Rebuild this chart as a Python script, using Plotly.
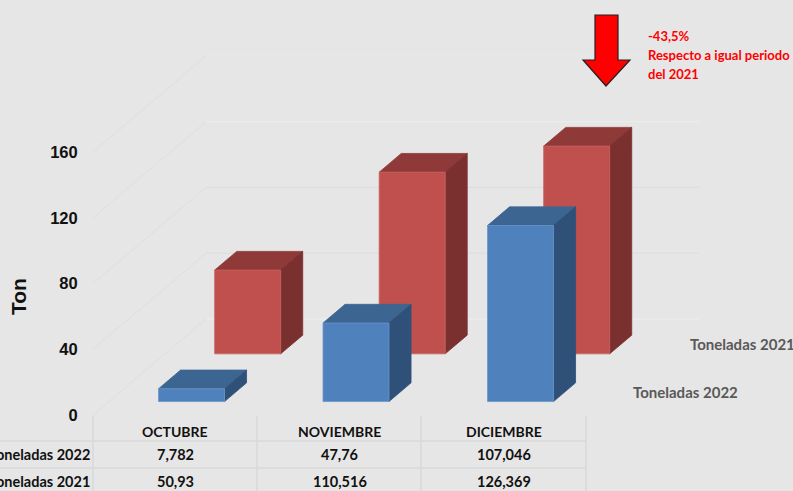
import plotly.graph_objects as go

months = ["OCTUBRE", "NOVIEMBRE", "DICIEMBRE"]
t2022 = [7.782, 47.76, 107.046]
t2021 = [50.93, 110.516, 126.369]
label_2022 = ["7,782", "47,76", "107,046"]
label_2021 = ["50,93", "110,516", "126,369"]
y_ticks = [0, 40, 80, 120, 160]

W, H = 793, 491
LEFT = 93
X0_PX, CAT_PX = 175.7, 164.5      # centre of first category, px per category
Y0_PX, TON_PX = 415.0, 1.644      # y=0 pixel, px per ton
DEPTH_X, DEPTH_Y = 113 / CAT_PX, 96 / TON_PX   # oblique projection of the full depth
BAR_W = 66 / CAT_PX
BAR_DEPTH = 0.195


def fx(px):
    return (px - X0_PX) / CAT_PX


def fy(py):
    return (Y0_PX - py) / TON_PX


def to_paper(px):
    return (px - LEFT) / (W - LEFT)


def to_paper_y(py):
    return 1 - py / H


BG = "#e6e6e6"
fig = go.Figure()


def line(xs, ys, color, width=1):
    fig.add_trace(go.Scatter(x=xs, y=ys, mode="lines", line=dict(color=color, width=width),
                             hoverinfo="skip", showlegend=False))


def poly(xs, ys, color, edge=None):
    fig.add_trace(go.Scatter(x=xs + xs[:1], y=ys + ys[:1], mode="lines", fill="toself",
                             fillcolor=color,
                             line=dict(color=edge or color, width=0.8),
                             hoverinfo="skip", showlegend=False))


# back wall and side wall gridlines
left_x = fx(LEFT)
right_x = fx(586)
wall_colors = {0: "#eeeeee", 40: "#dddddd", 80: "#dddddd", 120: "#eeeeee", 160: "#e9e9e9"}
for t in y_ticks:
    line([left_x, left_x + DEPTH_X], [t, t + DEPTH_Y], "#dcdcdc", 0.8)
    line([left_x + DEPTH_X, right_x + DEPTH_X], [t + DEPTH_Y] * 2, wall_colors[t], 1)


def bar(i, value, depth, front, side, top, edge):
    xl = i - BAR_W / 2
    xr = i + BAR_W / 2
    dx0, dy0 = depth * DEPTH_X, depth * DEPTH_Y
    dx1, dy1 = (depth + BAR_DEPTH) * DEPTH_X, (depth + BAR_DEPTH) * DEPTH_Y
    poly([xl + dx0, xr + dx0, xr + dx1, xl + dx1],
         [value + dy0, value + dy0, value + dy1, value + dy1], top)
    poly([xr + dx0, xr + dx1, xr + dx1, xr + dx0],
         [dy0, dy1, value + dy1, value + dy0], side)
    poly([xl + dx0, xr + dx0, xr + dx0, xl + dx0],
         [dy0, dy0, value + dy0, value + dy0], front, edge)


for i, v in enumerate(t2021):
    bar(i, v, 0.637, "#c0504d", "#7a302e", "#8f3a38", "#c9615e")
for i, v in enumerate(t2022):
    bar(i, v, 0.14, "#4f81bd", "#2f5078", "#3d6592", "#6a95c9")

annotations = []


def text(px, py, s, size, color="#111111", anchor="center", family="Lato", angle=0):
    annotations.append(dict(
        x=to_paper(px), y=to_paper_y(py), xref="paper", yref="paper", text=f"<b>{s}</b>",
        showarrow=False, xanchor=anchor, yanchor="middle", textangle=angle,
        font=dict(family=family, size=size, color=color)))


# data table
for i, m in enumerate(months):
    cx = 175 + 164.5 * i
    text(cx, 431, m, 14)
    text(cx, 454, label_2022[i], 14.5)
    text(cx, 481, label_2021[i], 14.5)
text(92, 454, "Toneladas 2022", 14.5, anchor="right")
text(92, 481, "Toneladas 2021", 14.5, anchor="right")

# series names
text(688, 344, "Toneladas 2021", 15, "#595959", anchor="left")
text(631, 392, "Toneladas 2022", 15, "#595959", anchor="left")

# callout
red = "#ff0000"
text(646, 36, "-43,5%", 13, red, anchor="left")
text(646, 55, "Respecto a igual periodo", 13, red, anchor="left")
text(646, 74, "del 2021", 13, red, anchor="left")

# axis title
text(18, 297, "Ton", 21, "#111111", family="Liberation Sans", angle=-90)

shapes = []
for py in (441, 468):
    shapes.append(dict(type="line", xref="paper", yref="paper", x0=to_paper(0), x1=to_paper(586),
                       y0=to_paper_y(py), y1=to_paper_y(py), line=dict(color="#d9d9d9", width=1.5)))
for px in (93, 257, 421, 586):
    shapes.append(dict(type="line", xref="paper", yref="paper", x0=to_paper(px), x1=to_paper(px),
                       y0=to_paper_y(416), y1=to_paper_y(491), line=dict(color="#d9d9d9", width=1.5)))

arrow = [(595, 15), (618, 15), (618, 60), (630, 60), (606, 86), (583, 60), (595, 60)]
path = "M " + " L ".join(f"{fx(a)},{fy(b)}" for a, b in arrow) + " Z"
shapes.append(dict(type="path", xref="x", yref="y", path=path, fillcolor=red,
                   line=dict(color="#222222", width=1.2)))

fig.update_layout(
    width=W, height=H, autosize=False,
    margin=dict(l=LEFT, r=0, t=0, b=0),
    paper_bgcolor=BG, plot_bgcolor=BG,
    showlegend=False,
    annotations=annotations, shapes=shapes,
    xaxis=dict(range=[fx(LEFT), fx(W)], visible=False, fixedrange=True),
    yaxis=dict(range=[fy(H), fy(0)], tickmode="array", tickvals=y_ticks,
               ticktext=[str(t) for t in y_ticks], showgrid=False, zeroline=False,
               showline=False, ticks="outside", ticklen=11, tickcolor="rgba(0,0,0,0)",
               tickfont=dict(family="Liberation Sans", size=16.5, color="#111111", weight="bold"),
               fixedrange=True),
)

fig.write_html("out.html", config=dict(displayModeBar=False),
               post_script="document.body.style.margin='0';document.body.style.overflow='hidden';")
